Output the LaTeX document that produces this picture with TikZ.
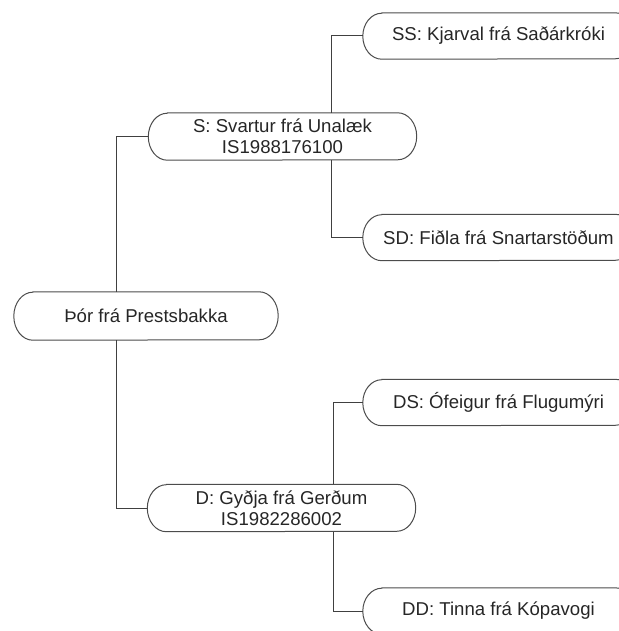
\documentclass[tikz,border=0pt]{standalone}
\usepackage{fontspec}
\setmainfont{Liberation Sans}
\begin{document}
\begin{tikzpicture}[x=1pt,y=-1pt,
  pill/.style={inner sep=0pt, align=center, text=black!85,
    font=\fontsize{18.6}{21}\selectfont,
    append after command={\pgfextra{\draw[draw=black!70, line width=1pt]
      ([xshift=19pt]\tikzlastnode.north west) -- ([xshift=-19pt]\tikzlastnode.north east)
      arc[start angle=90, end angle=-90, x radius=19pt, y radius=#1]
      -- ([xshift=19pt]\tikzlastnode.south west)
      arc[start angle=270, end angle=90, x radius=19pt, y radius=#1] -- cycle;}}},
  rootbox/.style={pill=24pt, minimum width=264pt, minimum height=48pt},
  parentbox/.style={pill=23.5pt, minimum width=268pt, minimum height=47pt},
  leafbox/.style={pill=23pt, minimum width=271pt, minimum height=46pt},
  link/.style={draw=black!75, line width=1pt}]
\useasboundingbox (0,0) rectangle (618,631);
\coordinate (rv) at (116,316);
\coordinate (sv) at (331,136);
\coordinate (dv) at (333,508);
\node[rootbox] (root) at (146,316) {Þór frá Prestsbakka};
\node[parentbox] (S) at (282.5,136.5) {S: Svartur frá Unalæk\\IS1988176100};
\node[parentbox] (D) at (281.5,508) {D: Gyðja frá Gerðum\\IS1982286002};
\node[leafbox] (SS) at (498.5,36) {SS: Kjarval frá Saðárkróki};
\node[leafbox] (SD) at (498.5,237.5) {SD: Fiðla frá Snartarstöðum};
\node[leafbox] (DS) at (498.5,402.5) {DS: Ófeigur frá Flugumýri};
\node[leafbox] (DD) at (498.5,611) {DD: Tinna frá Kópavogi};
\draw[link] (root.north -| rv) |- (S.west);
\draw[link] (root.south -| rv) |- (D.west);
\draw[link] (S.north -| sv) |- (SS.west);
\draw[link] (S.south -| sv) |- (SD.west);
\draw[link] (D.north -| dv) |- (DS.west);
\draw[link] (D.south -| dv) |- (DD.west);
\end{tikzpicture}
\end{document}
